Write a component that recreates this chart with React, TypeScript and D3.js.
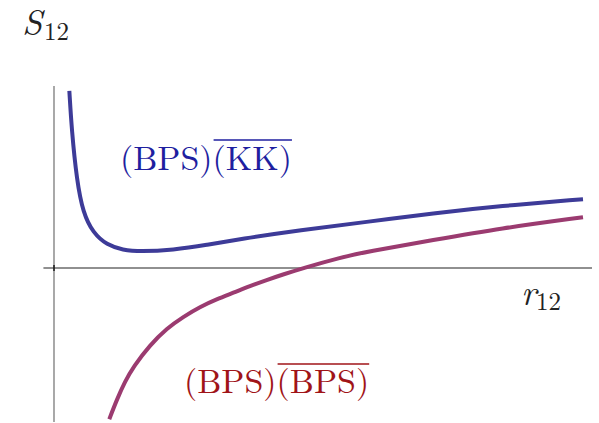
import React, { useEffect, useRef } from 'react';
import * as d3 from 'd3';

// r12 / S12 samples
const rBlue = [0.29, 0.335, 0.43, 0.55, 0.74, 1.0, 1.3, 1.63, 2.25, 2.89, 3.52, 4.65, 5.91, 7.17, 8.43, 10];
const sBlue = [4.43, 3.45, 2.2, 1.375, 0.875, 0.575, 0.45, 0.41, 0.45, 0.575, 0.725, 0.95, 1.15, 1.37, 1.55, 1.72];

const rRed = [1.045, 1.185, 1.342, 1.5, 1.815, 2.13, 2.444, 2.76, 3.076, 3.39, 3.705, 4.02, 4.335, 4.713, 5.41, 5.91, 7.17, 8.43, 10];
const sRed = [-3.78, -3.3, -2.84, -2.47, -1.925, -1.51, -1.22, -0.97, -0.78, -0.62, -0.45, -0.3, -0.16, 0.0, 0.26, 0.41, 0.7, 0.99, 1.27];

const xDomain = [-0.2, 10.17];
const yDomain = [-3.85, 4.55];

const blueLabel = ['(BPS)', '(KK)'];
const redLabel = ['(BPS)', '(BPS)'];

const W = 599;
const H = 423;
const FONT = 'Latin Modern Roman';

const App: React.FC = () => {
    const ref = useRef<SVGSVGElement>(null);

    useEffect(() => {
        const svg = d3.select(ref.current);
        svg.selectAll('*').remove();

        const x = d3.scaleLinear().domain([0, 10]).range([54, 583]);
        const y = d3.scaleLinear().domain([0, 1]).range([268, 228]);

        // axes
        svg.append('line')
            .attr('x1', x(0)).attr('x2', x(0))
            .attr('y1', y(yDomain[1])).attr('y2', y(yDomain[0]))
            .attr('stroke', '#7a7a7a')
            .attr('stroke-width', 1.3);

        svg.append('line')
            .attr('x1', x(xDomain[0])).attr('x2', x(xDomain[1]))
            .attr('y1', y(0)).attr('y2', y(0))
            .attr('stroke', '#222')
            .attr('stroke-width', 1.2);

        svg.append('line')
            .attr('x1', x(0)).attr('x2', x(0))
            .attr('y1', y(0) - 3).attr('y2', y(0) + 3)
            .attr('stroke', '#222')
            .attr('stroke-width', 1.6);

        const line = d3.line<[number, number]>()
            .x(d => x(d[0]))
            .y(d => y(d[1]))
            .curve(d3.curveBasis);

        const blue = rBlue.map((r, i) => [r, sBlue[i]] as [number, number]);
        const red = rRed.map((r, i) => [r, sRed[i]] as [number, number]);

        svg.append('path')
            .attr('d', line(red))
            .attr('fill', 'none')
            .attr('stroke', '#9b3b70')
            .attr('stroke-width', 4);

        svg.append('path')
            .attr('d', line(blue))
            .attr('fill', 'none')
            .attr('stroke', '#3d3b98')
            .attr('stroke-width', 4);

        // axis labels: italic symbol plus upright subscript
        const axisLabel = (sym: string, xs: number, ys: number, xsub: number, ysub: number) => {
            svg.append('text')
                .attr('x', xs).attr('y', ys)
                .attr('font-family', FONT)
                .attr('font-style', 'italic')
                .attr('font-size', 36)
                .attr('fill', '#222')
                .text(sym);
            svg.append('text')
                .attr('x', xsub).attr('y', ysub)
                .attr('font-family', FONT)
                .attr('font-size', 25)
                .attr('fill', '#222')
                .text('12');
        };
        axisLabel('S', 22, 35, 44, 39.5);
        axisLabel('r', 521, 305, 536, 310);

        // curve labels with overline on the second factor
        const label = (parts: string[], x0: number, yb: number, yo: number, color: string) => {
            const t1 = svg.append('text')
                .attr('x', x0).attr('y', yb)
                .attr('font-family', FONT)
                .attr('font-size', 34)
                .attr('fill', color)
                .text(parts[0]);
            const w1 = (t1.node() as SVGTextElement).getComputedTextLength();
            const t2 = svg.append('text')
                .attr('x', x0 + w1).attr('y', yb)
                .attr('font-family', FONT)
                .attr('font-size', 34)
                .attr('fill', color)
                .text(parts[1]);
            const w2 = (t2.node() as SVGTextElement).getComputedTextLength();
            svg.append('line')
                .attr('x1', x0 + w1 + 1).attr('x2', x0 + w1 + w2)
                .attr('y1', yo).attr('y2', yo)
                .attr('stroke', color)
                .attr('stroke-width', 1.5);
        };

        label(blueLabel, 120, 170, 140, '#1f1fa0');
        label(redLabel, 184, 393, 364, '#a01418');
    }, []);

    return (
        <svg ref={ref} width={W} height={H}
            style={{ position: 'absolute', left: 0, top: 0, background: 'white' }}>
        </svg>
    );
};

export default App;
